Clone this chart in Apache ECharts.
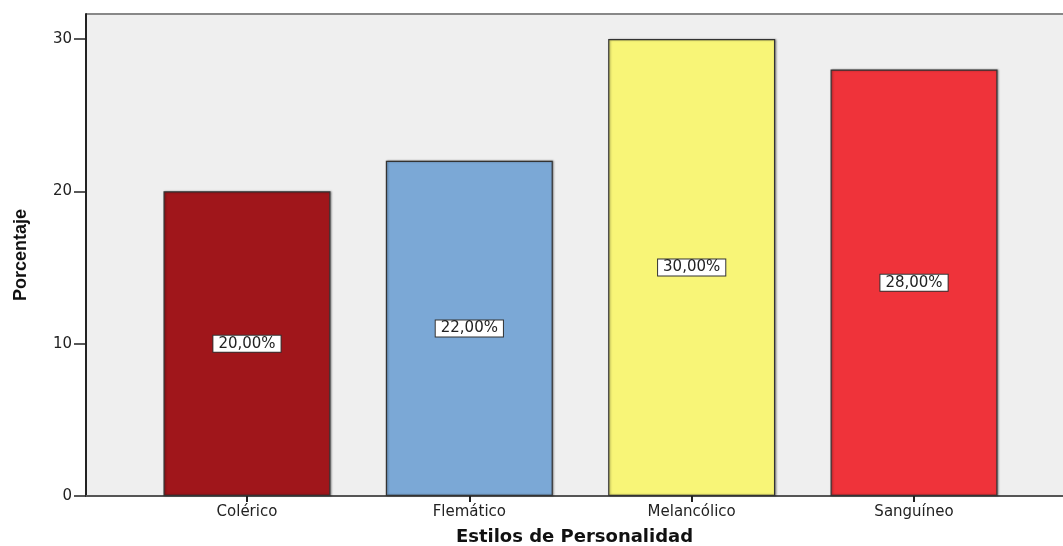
<!DOCTYPE html>
<html>
<head>
<meta charset="utf-8">
<script src="https://cdn.jsdelivr.net/npm/echarts@6/dist/echarts.min.js"></script>
<style>
  html, body { margin: 0; padding: 0; background: #fff; }
  #main { width: 1063px; height: 546px; }
</style>
</head>
<body>
<div id="main"></div>
<script>
var categories = ['Colérico', 'Flemático', 'Melancólico', 'Sanguíneo'];
var values = [20, 22, 30, 28];
var colors = ['#a0161b', '#7ba8d6', '#f8f577', '#ef333a'];
var yTicks = [0, 10, 20, 30];

var chart = echarts.init(document.getElementById('main'));

// bars placed on a numeric x axis so the frame can be wider than the categories
var barData = [];
for (var i = 0; i < values.length; i++) {
    barData.push({
        value: [i, values[i]],
        itemStyle: { color: colors[i] }
    });
}

var option = {
    backgroundColor: '#fff',
    animation: false,
    grid: {
        left: 86,
        right: 0,
        top: 14,
        bottom: 50,
        outerBoundsMode: 'none',
        containLabel: false,
        show: true,
        backgroundColor: '#efefef',
        borderWidth: 0
    },
    xAxis: {
        type: 'value',
        min: -0.724,
        max: 3.67,
        name: 'Estilos de Personalidad',
        nameLocation: 'middle',
        nameGap: 32,
        nameTextStyle: {
            fontFamily: 'DejaVu Sans',
            fontWeight: 'bold',
            fontSize: 18,
            color: '#111'
        },
        splitLine: { show: false },
        axisLine: { show: true, onZero: false, lineStyle: { color: '#555', width: 2 } },
        axisTick: {
            show: true,
            customValues: [0, 1, 2, 3],
            length: 6,
            lineStyle: { color: '#222', width: 2 }
        },
        axisLabel: {
            customValues: [0, 1, 2, 3],
            margin: 9,
            fontFamily: 'DejaVu Sans',
            fontSize: 15,
            color: '#222',
            formatter: function (v) { return categories[Math.round(v)]; }
        }
    },
    yAxis: {
        type: 'value',
        min: 0,
        max: 31.64,
        name: 'Porcentaje',
        nameLocation: 'middle',
        nameGap: 56,
        nameTextStyle: {
            fontFamily: 'Liberation Sans Narrow, Liberation Sans',
            fontWeight: 'bold',
            fontSize: 18,
            color: '#111'
        },
        splitLine: { show: false },
        axisLine: { show: true, onZero: false, lineStyle: { color: '#222', width: 2 } },
        axisTick: {
            show: true,
            customValues: yTicks,
            length: 12,
            lineStyle: { color: '#222', width: 1.5 }
        },
        axisLabel: {
            customValues: yTicks,
            margin: 14,
            fontFamily: 'DejaVu Sans',
            fontSize: 15,
            color: '#222'
        }
    },
    series: [{
        type: 'bar',
        barWidth: 167,
        data: barData,
        itemStyle: {
            borderColor: '#333',
            borderWidth: 1.2,
            shadowColor: 'rgba(0,0,0,0.35)',
            shadowBlur: 2,
            shadowOffsetX: 1
        },
        label: {
            show: true,
            position: 'inside',
            formatter: function (p) {
                return p.value[1].toFixed(2).replace('.', ',') + '%';
            },
            fontFamily: 'DejaVu Sans',
            fontSize: 15,
            lineHeight: 15,
            color: '#222',
            backgroundColor: '#fff',
            borderColor: '#333',
            borderWidth: 1,
            padding: [1, 5, 0, 5]
        }
    }]
};

chart.setOption(option);

// top frame line of the plot area
chart.setOption({
    graphic: [{
        type: 'line',
        shape: { x1: 86, y1: 14, x2: 1063, y2: 14 },
        style: { stroke: '#888', lineWidth: 2 }
    }]
});
</script>
</body>
</html>
